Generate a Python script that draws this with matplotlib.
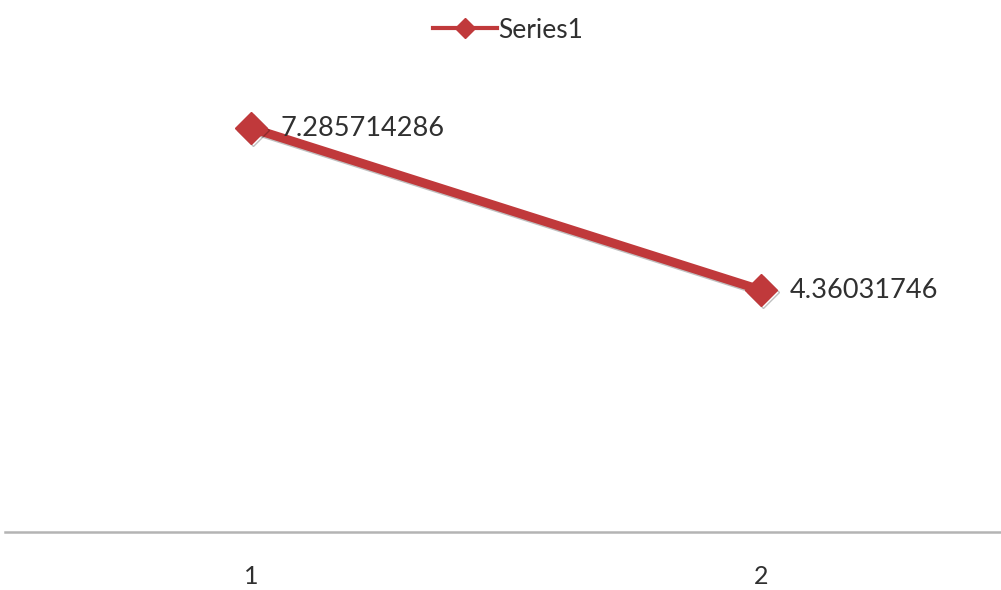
import matplotlib
matplotlib.use("Agg")
import matplotlib.pyplot as plt
import matplotlib.patheffects as pe
from matplotlib.lines import Line2D

categories = [1, 2]
values = [7.285714286, 4.36031746]
labels = ["7.285714286", "4.36031746"]
series_name = "Series1"

red = "#c0393b"
plt.rcParams["font.family"] = ["Lato", "DejaVu Sans"]

fig = plt.figure(figsize=(10.01, 5.9), dpi=100)
ax = fig.add_axes([5 / 1001, 58.5 / 590, 996 / 1001, 443 / 590])

shadow = [pe.SimpleLineShadow(offset=(1.5, -1.5), alpha=0.25), pe.Normal()]
ax.plot(categories, values, color=red, lw=6.5, marker="D", ms=16,
        path_effects=shadow, solid_capstyle="butt")

for x, v, t in zip(categories, values, labels):
    ax.annotate(t, (x, v), xytext=(21, 0), textcoords="offset points",
                ha="left", va="center", fontsize=19.5, color="#303030")

ax.set_xlim(1 - 246 / 510, 1 + 750 / 510)
ax.set_ylim(0, 8)
ax.set_xticks(categories)
ax.set_xticklabels([str(c) for c in categories], fontsize=18, color="#303030")
ax.tick_params(axis="x", length=0, pad=24)
ax.set_yticks([])
for s in ["top", "left", "right"]:
    ax.spines[s].set_visible(False)
ax.spines["bottom"].set_color("#b4b4b4")
ax.spines["bottom"].set_linewidth(1.8)

handle = Line2D([], [], color=red, lw=3, marker="D", ms=10)
fig.legend([handle], [series_name], loc="center",
           bbox_to_anchor=(508 / 1001, 1 - 30 / 590),
           frameon=False, fontsize=19, handlelength=2.4, handletextpad=0.05,
           labelcolor="#303030")

fig.savefig("out.png", dpi=100)
